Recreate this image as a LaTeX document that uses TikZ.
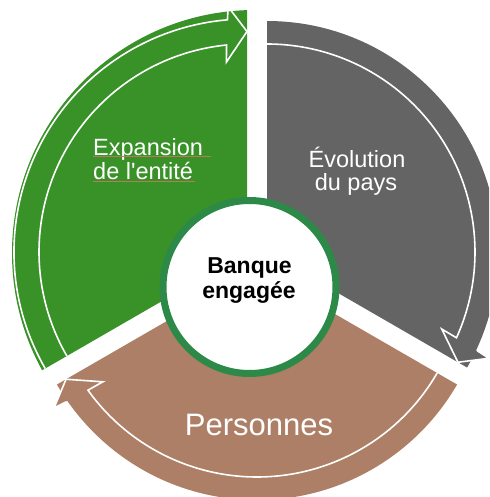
\documentclass[tikz,border=0pt]{standalone}
\usepackage{fontspec}
\setmainfont{Liberation Sans}
\newfontfamily\labfont{Liberation Sans}
\usetikzlibrary{calc}
\definecolor{segGreen}{RGB}{56,146,40}
\definecolor{segGrey}{RGB}{100,100,100}
\definecolor{segBrown}{RGB}{173,127,102}
\definecolor{ringGreen}{RGB}{45,137,72}
\definecolor{lineBrown}{RGB}{184,122,88}
\newcommand{\segoutline}[3]{%
  \draw[outline] ($(#1)+(#2:233)$) arc[start angle=#2, end angle={#3+4.82}, radius=233]
    -- ($(#1)+({#3+4.4}:246)$) -- ($(#1)+(#3:220.5)$) -- ($(#1)+({#3+6.2}:191)$)
    -- ($(#1)+({#3+5.64}:208)$) arc[start angle={#3+5.64}, end angle=#2, radius=208];}
\begin{document}
\begin{tikzpicture}[x=1pt,y=1pt,
  outline/.style={draw=white, line width=1.6pt, line join=miter},
  seglabel/.style={text=white, inner sep=0pt, font=\labfont\fontsize{23.5}{28}\selectfont},
  biglabel/.style={text=white, inner sep=0pt, font=\labfont\fontsize{31}{36}\selectfont},
  hublabel/.style={text=black, inner sep=0pt, font=\labfont\bfseries\fontsize{23}{27}\selectfont},
  squiggle/.style={draw=lineBrown, line width=0.8pt}]
\useasboundingbox (0,0) rectangle (489,-497);
\clip (0,0) rectangle (489,-497);
\coordinate (gA) at (247,-252);
\coordinate (yA) at (267,-252);
\coordinate (bA) at (257,-269);
% green segment
\begin{scope}
  \clip (255,-253) circle (243);
  \fill[segGreen] (gA) -- ++(90:300) arc[start angle=90, end angle=210, radius=300] -- cycle;
\end{scope}
% grey segment
\begin{scope}
  \clip (yA) circle (231);
  \fill[segGrey] (yA) -- ++(90:300) arc[start angle=90, end angle=-30, radius=300] -- cycle;
\end{scope}
\fill[segGrey] ($(yA)+(-30:220.5)$) -- ($(yA)+(-25.6:246)$) -- ($(yA)+(-23.8:191)$) -- cycle;
% brown segment
\begin{scope}
  \clip (bA) circle (231);
  \fill[segBrown] (bA) -- ++(-30:300) arc[start angle=-30, end angle=-150, radius=300] -- cycle;
\end{scope}
\fill[segBrown] ($(bA)+(210:220.5)$) -- ($(bA)+(214.4:246)$) -- ($(bA)+(216.2:191)$) -- cycle;
% white arrow outlines
\segoutline{gA}{210}{90}
\segoutline{yA}{90}{-30}
\segoutline{bA}{330}{210}
% labels
\node[seglabel, anchor=base west] (exp1) at (93,-155) {Expansion};
\node[seglabel, anchor=base west] (exp2) at (93,-179.5) {de l'entité};
\draw[squiggle] ([yshift=-1.5pt]exp1.base west) -- ([yshift=-1.5pt,xshift=8pt]exp1.base east);
\draw[squiggle] ([yshift=-1.5pt]exp2.base west) -- ([yshift=-1.5pt,xshift=2pt]exp2.base east);
\node[seglabel, anchor=base] (evo1) at (357,-167.5) {Évolution};
\node[seglabel, anchor=base] (evo2) at (356,-190) {du pays};
\node[biglabel, anchor=base] (pers) at (259,-435) {Personnes};
% hub
\node[circle, draw=ringGreen, line width=7pt, fill=white, minimum size=173pt, inner sep=0pt] (hub) at (249.5,-287) {};
\node[hublabel, anchor=base] (bq1) at (249.5,-273) {Banque};
\node[hublabel, anchor=base] (bq2) at (249,-298) {engagée};
\end{tikzpicture}
\end{document}
